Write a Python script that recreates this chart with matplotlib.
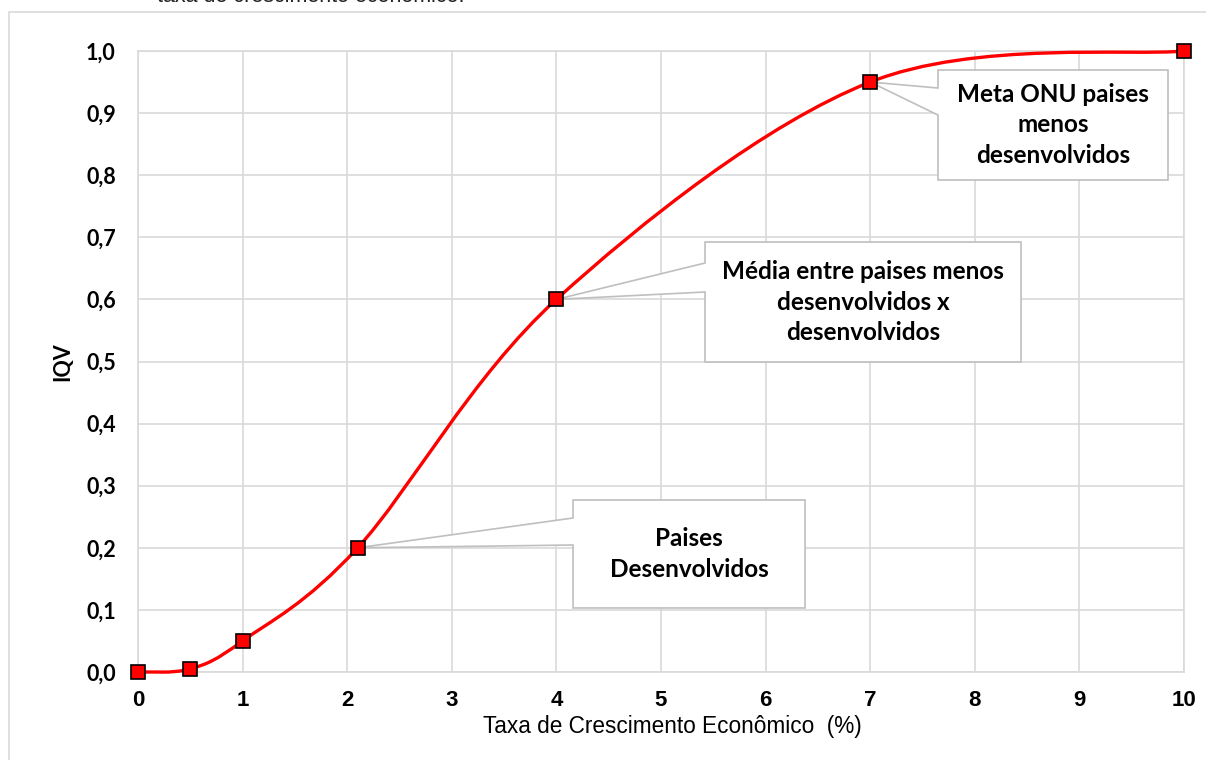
import matplotlib
matplotlib.use("Agg")
import matplotlib.pyplot as plt
from matplotlib.path import Path
from matplotlib.patches import PathPatch, Polygon, Rectangle

# data
growth = [0, 0.5, 1, 2.1, 4, 7, 10]
iqv = [0, 0.005, 0.05, 0.2, 0.6, 0.95, 1.0]
x_ticks = list(range(0, 11))
y_ticks = [i / 10 for i in range(0, 11)]

callout_texts = [
    "Paises\nDesenvolvidos",
    "Média entre paises menos\ndesenvolvidos x\ndesenvolvidos",
    "Meta ONU paises\nmenos\ndesenvolvidos",
]
callout_points = [3, 4, 5]  # index into growth / iqv

# callout box layout in data units: left, right, bottom, top, wedge_lo, wedge_hi
callout_boxes = [
    (4.159, 6.377, 0.1031, 0.2770, 0.2045, 0.2480),
    (5.421, 8.442, 0.4992, 0.6924, 0.6119, 0.6586),
    (7.648, 9.847, 0.7923, 0.9694, 0.8969, 0.9404),
]

RED = "#ff0000"
GRID = "#d9d9d9"
BOX_EDGE = "#bfbfbf"


def smooth_path(xs, ys):
    """Excel-style smoothed line: Catmull-Rom as cubic Bezier segments."""
    pts = list(zip(xs, ys))
    n = len(pts)
    verts = [pts[0]]
    codes = [Path.MOVETO]
    for i in range(n - 1):
        p0 = pts[i - 1] if i > 0 else pts[i]
        p1 = pts[i]
        p2 = pts[i + 1]
        p3 = pts[i + 2] if i + 2 < n else pts[i + 1]
        c1 = (p1[0] + (p2[0] - p0[0]) / 6, p1[1] + (p2[1] - p0[1]) / 6)
        c2 = (p2[0] - (p3[0] - p1[0]) / 6, p2[1] - (p3[1] - p1[1]) / 6)
        verts += [c1, c2, p2]
        codes += [Path.CURVE4] * 3
    return Path(verts, codes)


fig = plt.figure(figsize=(12.06, 7.6), dpi=100)
ax = fig.add_axes([138 / 1206, 88 / 760, 1046 / 1206, 621 / 760])

# outer chart-area border (runs off the right and bottom edges)
fig.patches.append(Rectangle((8.5 / 1206, -0.1), 1.2, 1 - 12 / 760 + 0.1,
                             transform=fig.transFigure, fill=False,
                             edgecolor=GRID, linewidth=1.2))

# tail of the document sentence above the chart, cut by the page edge
fig.text(157 / 1206, 1 - 2 / 760, "taxa de crescimento econômico.",
         fontsize=15.5, family="Liberation Sans", color="#222222",
         ha="left", va="baseline")

ax.set_xlim(0, 10)
ax.set_ylim(0, 1.0)
ax.set_xticks(x_ticks)
ax.set_yticks(y_ticks)
ax.set_yticklabels([f"{v:.1f}".replace(".", ",") for v in y_ticks])
ax.grid(True, color=GRID, linewidth=1.2, zorder=0)
ax.set_axisbelow(True)
for sp in ax.spines.values():
    sp.set_color(GRID)
    sp.set_linewidth(1.2)
ax.tick_params(length=0)
ax.tick_params(axis="x", pad=13)
ax.tick_params(axis="y", pad=16)
for lab in ax.get_xticklabels():
    lab.set_fontfamily("Liberation Sans")
    lab.set_fontweight("bold")
    lab.set_fontsize(16)
for lab in ax.get_yticklabels():
    lab.set_fontfamily("Lato")
    lab.set_fontweight("bold")
    lab.set_fontsize(15.5)

fig.text(672 / 1206, 1 - 727 / 760, "Taxa de Crescimento Econômico  (%)",
         fontsize=16.3, family="Liberation Sans", ha="center", va="center")
fig.text(63 / 1206, 1 - 362 / 760, "IQV", fontsize=15.5, family="Lato",
         fontweight="bold", rotation=90, ha="center", va="center")

# callouts
for text, idx, (l, r, b, t, wlo, whi) in zip(callout_texts, callout_points, callout_boxes):
    tip = (growth[idx], iqv[idx])
    poly = Polygon([(l, t), (r, t), (r, b), (l, b), (l, wlo), tip, (l, whi)],
                   closed=True, facecolor="white", edgecolor=BOX_EDGE,
                   linewidth=1.2, zorder=2.5)
    ax.add_patch(poly)
    ax.text((l + r) / 2, (b + t) / 2, text, ha="center", va="center",
            fontsize=17.5, family="Lato", fontweight="bold",
            linespacing=1.42, zorder=2.6)

ax.add_patch(PathPatch(smooth_path(growth, iqv), facecolor="none",
                       edgecolor=RED, linewidth=2.4, zorder=3,
                       clip_on=False, capstyle="round"))
ax.plot(growth, iqv, linestyle="none", marker="s", markersize=10,
        markerfacecolor=RED, markeredgecolor="black", markeredgewidth=1.2,
        zorder=4, clip_on=False)

fig.savefig("out.png", dpi=100)
